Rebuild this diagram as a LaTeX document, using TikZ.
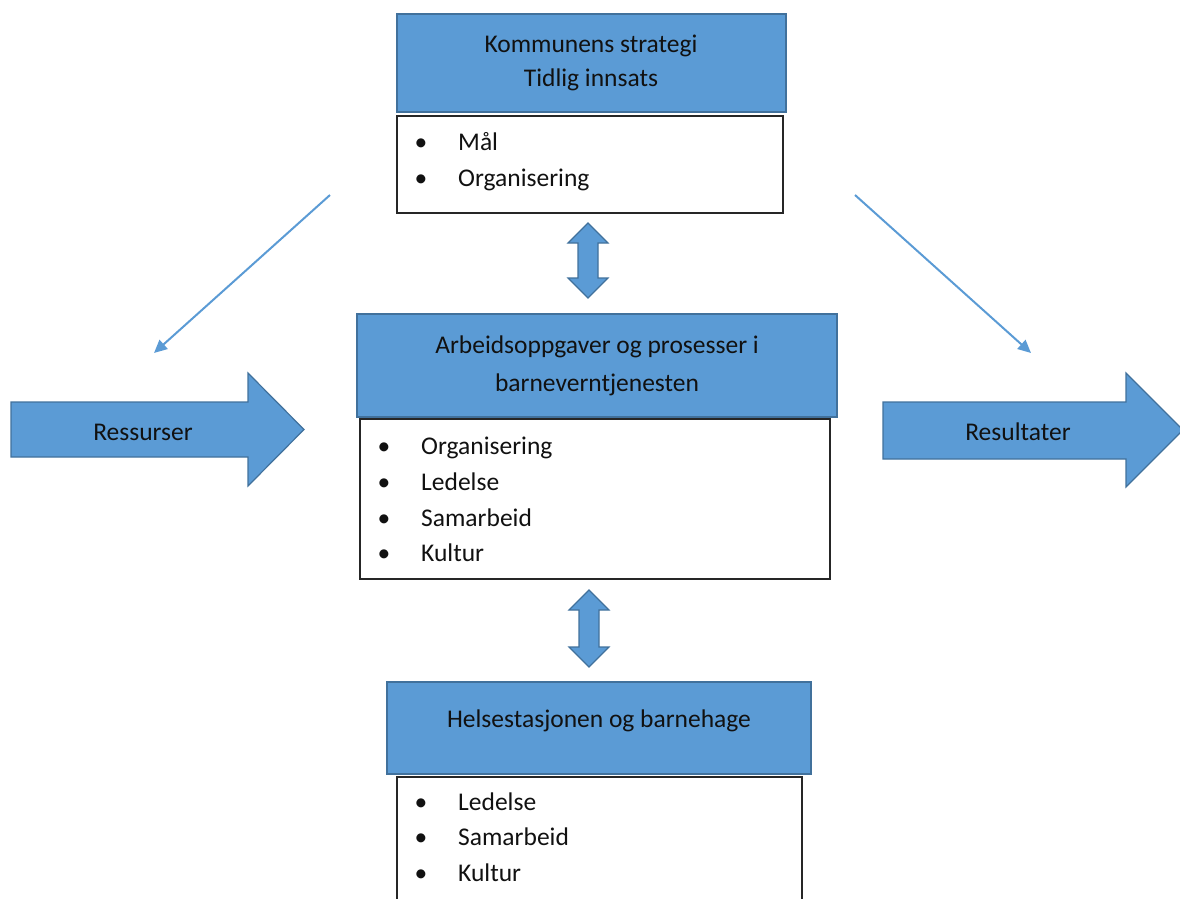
\documentclass[tikz,border=0pt]{standalone}
\usepackage{fontspec}
\setmainfont{Carlito}
\usetikzlibrary{calc,arrows.meta}
\definecolor{boxfill}{HTML}{5B9BD5}
\definecolor{boxline}{HTML}{41719C}
\definecolor{txt}{HTML}{111111}
\newcommand\vdarrow[2]{\draw[blockarrow] let \p1=(#1), \p2=(#2) in
  (\x1,\y1) -- (\x1+20pt,\y1-20pt) -- (\x1+10pt,\y1-20pt) -- (\x1+10pt,\y2+20pt)
  -- (\x1+20pt,\y2+20pt) -- (\x1,\y2) -- (\x1-20pt,\y2+20pt) -- (\x1-10pt,\y2+20pt)
  -- (\x1-10pt,\y1-20pt) -- (\x1-20pt,\y1-20pt) -- cycle;}
\begin{document}
\begin{tikzpicture}[x=1pt,y=-1pt,
  bluebox/.style={draw=boxline, fill=boxfill, line width=1.5pt, inner sep=0pt, outer sep=0pt, anchor=north west},
  whitebox/.style={draw=black!85, fill=white, line width=1.2pt, inner sep=0pt, outer sep=0pt, anchor=north west},
  blockarrow/.style={draw=boxline, fill=boxfill, line width=1.2pt, line join=miter},
  thinarrow/.style={draw=boxfill, line width=2pt, -{Triangle[length=13pt,width=12pt]}},
  lbl/.style={font=\fontsize{25.5}{34}\selectfont, text=txt, anchor=base, inner sep=0pt},
  item/.style={font=\fontsize{25.5}{34}\selectfont, text=txt, anchor=base west, inner sep=0pt},
  bul/.style={font=\fontsize{25.5}{34}\selectfont, text=txt, anchor=base, inner sep=0pt}]
\useasboundingbox (0,0) rectangle (1180,898);
\clip (0,0) rectangle (1180,898);

% top group
\node[bluebox, minimum width=389pt, minimum height=98pt] (topblue) at (397,14) {};
\node[lbl] (topl1) at (591,52) {Kommunens strategi};
\node[lbl] (topl2) at (591,86) {Tidlig innsats};
\node[whitebox, minimum width=386pt, minimum height=97pt] (topwhite) at (397,116) {};
\node[bul] (tb1) at (421,150) {•};
\node[item] (ti1) at (458,150) {Mål};
\node[bul] (tb2) at (421,186) {•};
\node[item] (ti2) at (458,186) {Organisering};

% middle group
\node[bluebox, minimum width=480pt, minimum height=103pt] (midblue) at (357,314) {};
\node[lbl] (midl1) at (597,353) {Arbeidsoppgaver og prosesser i};
\node[lbl] (midl2) at (597,391) {barneverntjenesten};
\node[whitebox, minimum width=470pt, minimum height=160pt] (midwhite) at (360,419) {};
\node[bul] (mb1) at (384,454) {•};
\node[item] (mi1) at (421,454) {Organisering};
\node[bul] (mb2) at (384,490) {•};
\node[item] (mi2) at (421,490) {Ledelse};
\node[bul] (mb3) at (384,526) {•};
\node[item] (mi3) at (421,526) {Samarbeid};
\node[bul] (mb4) at (384,561) {•};
\node[item] (mi4) at (421,561) {Kultur};

% bottom group
\node[bluebox, minimum width=424pt, minimum height=92pt] (botblue) at (387,682) {};
\node[lbl] (botl1) at (599,727) {Helsestasjonen og barnehage};
\node[whitebox, minimum width=405pt, minimum height=140pt] (botwhite) at (397,777) {};
\node[bul] (bb1) at (421,810) {•};
\node[item] (bi1) at (458,810) {Ledelse};
\node[bul] (bb2) at (421,845) {•};
\node[item] (bi2) at (458,845) {Samarbeid};
\node[bul] (bb3) at (421,881) {•};
\node[item] (bi3) at (458,881) {Kultur};

% double arrows
\coordinate (da1t) at (588,223);
\coordinate (da1b) at (588,298);
\coordinate (da2t) at (589,590);
\coordinate (da2b) at (589,667);
\vdarrow{da1t}{da1b}
\vdarrow{da2t}{da2b}

% side block arrows
\draw[blockarrow] (11,402) -- (248,402) -- (248,373) -- (304,429.5) -- (248,486) -- (248,457) -- (11,457) -- cycle;
\node[lbl] (res) at (143,440) {Ressurser};
\draw[blockarrow] (883,402) -- (1126,402) -- (1126,373) -- (1183,430) -- (1126,487) -- (1126,459) -- (883,459) -- cycle;
\node[lbl] (resu) at (1018,440) {Resultater};

% thin arrows
\coordinate (tla) at (330,195);
\coordinate (tlb) at (154,353);
\coordinate (tra) at (855,195);
\coordinate (trb) at (1031,353);
\draw[thinarrow] (tla) -- (tlb);
\draw[thinarrow] (tra) -- (trb);
\end{tikzpicture}
\end{document}
